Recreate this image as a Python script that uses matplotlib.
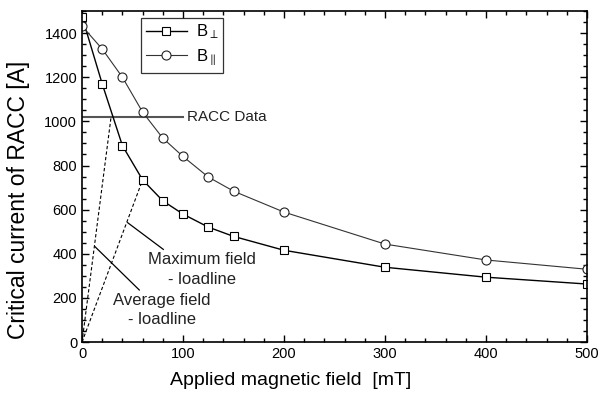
import numpy as np
import matplotlib
matplotlib.use("Agg")
import matplotlib.pyplot as plt
from matplotlib.ticker import MultipleLocator

plt.rcParams['font.family'] = ['Liberation Sans', 'DejaVu Sans']
plt.rcParams['mathtext.fontset'] = 'custom'
plt.rcParams['mathtext.rm'] = 'Liberation Sans'
plt.rcParams['mathtext.it'] = 'Liberation Sans'

# data
field_perp = [0, 20, 40, 60, 80, 100, 125, 150, 200, 300, 400, 500]
ic_perp = [1475, 1170, 890, 735, 640, 580, 521, 479, 416, 339, 294, 263]
field_par = [0, 20, 40, 60, 80, 100, 125, 150, 200, 300, 400, 500]
ic_par = [1432, 1328, 1200, 1042, 924, 841, 748, 684, 589, 444, 372, 330]

racc_level = 1020
racc_xmax = 100
avg_loadline = ([0, 28.7], [0, 1018])
max_loadline = ([0, 60], [0, 735])

fig = plt.figure(figsize=(6, 3.95), dpi=100)
ax = fig.add_axes([0.1367, 0.134, 0.8416, 0.838])

txtc = '#222222'
# loadlines
ax.plot(*avg_loadline, color='black', lw=0.8, ls=(0, (3, 2)))
ax.plot(*max_loadline, color='black', lw=0.8, ls=(0, (3, 2)))
# RACC data level
ax.plot([0, racc_xmax], [racc_level, racc_level], color='#555555', lw=1.5)
ax.text(103.5, racc_level, 'RACC Data', fontsize=11, va='center', ha='left', color=txtc)

ax.plot(field_perp, ic_perp, color='black', lw=1.0, marker='s', ms=5.5,
        mfc='white', mec='black', mew=0.8, label=r'B$_{\perp}$')
ax.plot(field_par, ic_par, color='#333333', lw=0.8, marker='o', ms=6.5,
        mfc='white', mec='#222222', mew=0.8, label=r'B$_{\parallel}$')

# annotation pointers
ax.plot([45.2, 80.5], [541, 420], color='black', lw=0.9)
ax.plot([12.9, 56.7], [432, 236], color='black', lw=0.9)
ax.text(118.5, 372, 'Maximum field', fontsize=12, ha='center', va='center', color=txtc)
ax.text(118.5, 285, '- loadline', fontsize=12, ha='center', va='center', color=txtc)
ax.text(79, 190, 'Average field', fontsize=12, ha='center', va='center', color=txtc)
ax.text(79, 104, '- loadline', fontsize=12, ha='center', va='center', color=txtc)

ax.set_xlim(0, 500)
ax.set_ylim(0, 1500)
ax.xaxis.set_major_locator(MultipleLocator(100))
ax.xaxis.set_minor_locator(MultipleLocator(20))
ax.yaxis.set_major_locator(MultipleLocator(200))
ax.yaxis.set_minor_locator(MultipleLocator(50))
ax.tick_params(which='both', direction='in', top=True, right=True, labelsize=10.5, width=1)
ax.tick_params(which='major', length=5)
ax.tick_params(which='minor', length=3)
for s in ax.spines.values():
    s.set_linewidth(1.2)

ax.set_xlabel('Applied magnetic field  [mT]', fontsize=14, va='center')
ax.set_ylabel('Critical current of RACC [A]', fontsize=16.5, va='center')
# the original labels sit off-centre
ax.xaxis.set_label_coords(0.414, -0.115)
ax.yaxis.set_label_coords(-0.125, 0.43)

leg = ax.legend(loc='upper left', bbox_to_anchor=(0.116, 0.98), frameon=True,
                fancybox=False, edgecolor='black', fontsize=12, handlelength=2.5,
                borderpad=0.3, labelspacing=0.35, handletextpad=0.5,
                borderaxespad=0)
leg.get_frame().set_linewidth(0.9)

fig.savefig('out.png', dpi=100)
